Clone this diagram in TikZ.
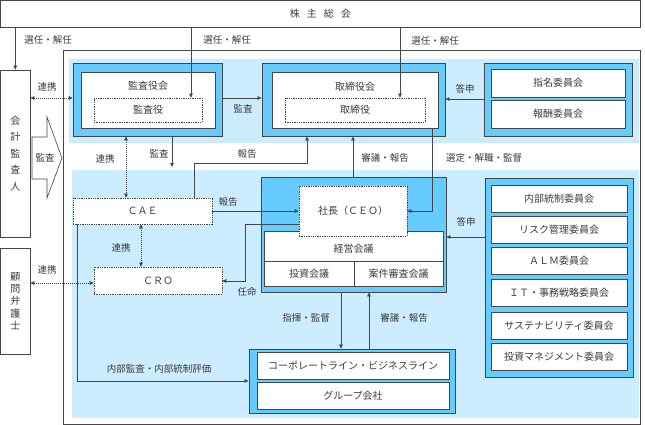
\documentclass[tikz,border=0pt]{standalone}
\usepackage{fontspec}
\setmainfont{Noto Sans CJK JP}
\usetikzlibrary{arrows.meta}
\definecolor{lb}{RGB}{204,236,255}
\definecolor{db}{RGB}{102,204,255}
\definecolor{ln}{RGB}{70,70,70}
\definecolor{tx}{RGB}{60,60,60}
\tikzset{
  box/.style={draw=ln, line width=0.8pt, fill=white, inner sep=0pt, text=tx, font=\fontsize{10}{12}\selectfont},
  dbox/.style={box, line width=0.7pt, dash pattern=on 1.3pt off 1pt},
  bluebox/.style={draw=ln, line width=0.8pt, fill=db, inner sep=0pt},
  band/.style={fill=lb, draw=none, inner sep=0pt},
  lbl/.style={text=tx, font=\fontsize{9.5}{11}\selectfont, inner sep=0pt},
  arr/.style={draw=ln, line width=0.6pt, -{Triangle[length=4pt,width=3.6pt]}},
  dotarr/.style={draw=ln, line width=0.6pt, dash pattern=on 1pt off 1pt, {Triangle[length=4pt,width=3.6pt]}-{Triangle[length=4pt,width=3.6pt]}}
}
\begin{document}
\begin{tikzpicture}[x=1pt,y=-1pt]
\useasboundingbox (0,0) rectangle (645,425);
% shareholders
\node[box, minimum width=639.5pt, minimum height=26.5pt] (sh) at (320.25,13.75) {株\hspace{7pt}主\hspace{7pt}総\hspace{7pt}会};
% outer frame and bands
\node[box, fill=white, minimum width=577pt, minimum height=374pt] (frame) at (351.5,237) {};
\node[band, minimum width=570pt, minimum height=84pt] (band1) at (354,101) {};
\node[band, minimum width=567pt, minimum height=248pt] (band2) at (355.5,294) {};
% auditors
\node[bluebox, minimum width=149pt, minimum height=73pt] (kansaO) at (147.5,99.5) {};
\node[box, minimum width=134pt, minimum height=56pt] (kansaI) at (148,100) {};
\node[lbl, font=\fontsize{10}{12}\selectfont] (kansaT) at (148,86) {監査役会};
\node[dbox, minimum width=108pt, minimum height=24pt] (kansayaku) at (148,110) {監査役};
% board
\node[bluebox, minimum width=183pt, minimum height=73pt] (toriO) at (353.5,99.5) {};
\node[box, minimum width=166pt, minimum height=56pt] (toriI) at (355,100) {};
\node[lbl, font=\fontsize{10}{12}\selectfont] (toriT) at (355,87) {取締役会};
\node[dbox, minimum width=140pt, minimum height=24pt] (toriyaku) at (355,110) {取締役};
% nomination
\node[bluebox, minimum width=148pt, minimum height=73pt] (nomO) at (558,99.5) {};
\node[box, minimum width=134pt, minimum height=28pt] (nom1) at (558,83) {指名委員会};
\node[box, minimum width=134pt, minimum height=28pt] (nom2) at (558,114) {報酬委員会};
% left boxes
\node[box, align=center, minimum width=29.5pt, minimum height=167pt, font=\fontsize{10}{16.5}\selectfont] (kaikei) at (15.25,153.5) {会\\計\\監\\査\\人};
\node[box, align=center, minimum width=29.5pt, minimum height=106pt, font=\fontsize{10}{12.2}\selectfont] (komon) at (15.25,301) {顧\\問\\弁\\護\\士};
% block arrow
\draw[draw=ln, line width=0.6pt, fill=white] (32,137) -- (47,137) -- (47,117) -- (62,158) -- (47,198) -- (47,179) -- (32,179) -- cycle;
\node[lbl] (kansaArrow) at (45,158) {監査};
% CAE, CRO
\node[dbox, minimum width=139pt, minimum height=26pt] (CAE) at (142.5,211) {ＣＡＥ};
\node[dbox, minimum width=128pt, minimum height=27pt] (CRO) at (158,280.5) {ＣＲＯ};
% CEO block
\node[bluebox, minimum width=185pt, minimum height=115pt] (ceoO) at (353.5,234.5) {};
\node[box, minimum width=179pt, minimum height=30pt] (keiei) at (353.5,246) {};
\node[box, minimum width=90pt, minimum height=25pt] (toshi) at (309,273.5) {投資会議};
\node[box, minimum width=89pt, minimum height=25pt] (anken) at (398.5,273.5) {案件審査会議};
\node[dbox, minimum width=108pt, minimum height=50pt] (ceoD) at (353,211) {社長（ＣＥＯ）};
\node[lbl, font=\fontsize{10}{12}\selectfont] (keieiT) at (353.5,248.5) {経営会議};
% committees
\node[bluebox, minimum width=148pt, minimum height=199pt] (commO) at (559,277.5) {};
\node[box, minimum width=136pt, minimum height=27pt] (com1) at (559,198.5) {内部統制委員会};
\node[box, minimum width=136pt, minimum height=27pt] (com2) at (559,229.5) {リスク管理委員会};
\node[box, minimum width=136pt, minimum height=27pt] (com3) at (559,260.5) {ＡＬＭ委員会};
\node[box, minimum width=136pt, minimum height=27pt] (com4) at (559,292.5) {ＩＴ・事務戦略委員会};
\node[box, minimum width=136pt, minimum height=27pt] (com5) at (559,325.5) {サステナビリティ委員会};
\node[box, minimum width=136pt, minimum height=27pt] (com6) at (559,356.5) {投資マネジメント委員会};
% corporate
\node[bluebox, minimum width=206pt, minimum height=64pt] (corpO) at (352,381) {};
\node[box, minimum width=192pt, minimum height=27pt] (corp1) at (353,365.5) {コーポレートライン・ビジネスライン};
\node[box, minimum width=192pt, minimum height=27pt] (corp2) at (353,395.5) {グループ会社};
% coordinates
\coordinate (c1) at (191,98);
\coordinate (c2) at (400,98);
\coordinate (c3) at (0,98);
\coordinate (c4) at (0,99);
\coordinate (c5) at (126,0);
\coordinate (c6) at (172,167);
\coordinate (c7) at (194,163);
\coordinate (c8) at (307,163);
\coordinate (c9) at (353,0);
\coordinate (c10) at (432,211);
\coordinate (c11) at (245,224);
\coordinate (c12) at (245,281);
\coordinate (c13) at (141,0);
\coordinate (c14) at (0,283);
\coordinate (c15) at (77,381);
\coordinate (c16) at (341,0);
\coordinate (c17) at (369,0);
\coordinate (c18) at (0,237);
% connectors
\draw[arr] (kaikei.north |- sh.south) -- (kaikei.north);
\draw[arr] (sh.south -| c1) -- (kansayaku.north -| c1);
\draw[arr] (sh.south -| c2) -- (toriyaku.north -| c2);
\draw[dotarr] (kaikei.east |- c3) -- (kansaO.west |- c3);
\draw[arr] (kansaO.east |- c3) -- (toriO.west |- c3);
\draw[arr] (nomO.west |- c4) -- (toriO.east |- c4);
\draw[dotarr] (kansaO.south -| c5) -- (CAE.north -| c5);
\draw[arr] (kansaO.south -| c6) -- (c6);
\draw[arr] (CAE.north -| c7) -- (c7) -- (c8) -- (toriO.south -| c8);
\draw[arr] (ceoO.north -| c9) -- (toriO.south -| c9);
\draw[arr] (toriI.south -| c10) -- (c10) -- (ceoD.east |- c10);
\draw[arr] (CAE.east) -- (ceoD.west |- CAE.east);
\draw[arr] (ceoD.west |- c11) -- (c11) -- (c12) -- (CRO.east |- c12);
\draw[dotarr] (CAE.south -| c13) -- (CRO.north -| c13);
\draw[dotarr] (komon.east |- c14) -- (CRO.west |- c14);
\draw[arr] (CAE.south -| c15) -- (c15) -- (corpO.west |- c15);
\draw[arr] (ceoO.south -| c16) -- (corpO.north -| c16);
\draw[arr] (corpO.north -| c17) -- (ceoO.south -| c17);
\draw[arr] (commO.west |- c18) -- (ceoO.east |- c18);
% labels
\node[lbl] (l1) at (48,40) {選任・解任};
\node[lbl] (l2) at (227,40) {選任・解任};
\node[lbl] (l3) at (435,41) {選任・解任};
\node[lbl] (l4) at (47,87) {連携};
\node[lbl] (l5) at (243,109) {監査};
\node[lbl] (l6) at (465,89) {答申};
\node[lbl] (l7) at (105,159) {連携};
\node[lbl] (l8) at (159,154) {監査};
\node[lbl] (l9) at (247,154) {報告};
\node[lbl] (l10) at (385,158) {審議・報告};
\node[lbl] (l11) at (484,158) {選定・解職・監督};
\node[lbl] (l12) at (228,202) {報告};
\node[lbl] (l13) at (247,292) {任命};
\node[lbl] (l14) at (121,248) {連携};
\node[lbl] (l15) at (47,270) {連携};
\node[lbl] (l16) at (159,369) {内部監査・内部統制評価};
\node[lbl] (l17) at (306,318) {指揮・監督};
\node[lbl] (l18) at (404,318) {審議・報告};
\node[lbl] (l19) at (466,222) {答申};
\end{tikzpicture}
\end{document}
